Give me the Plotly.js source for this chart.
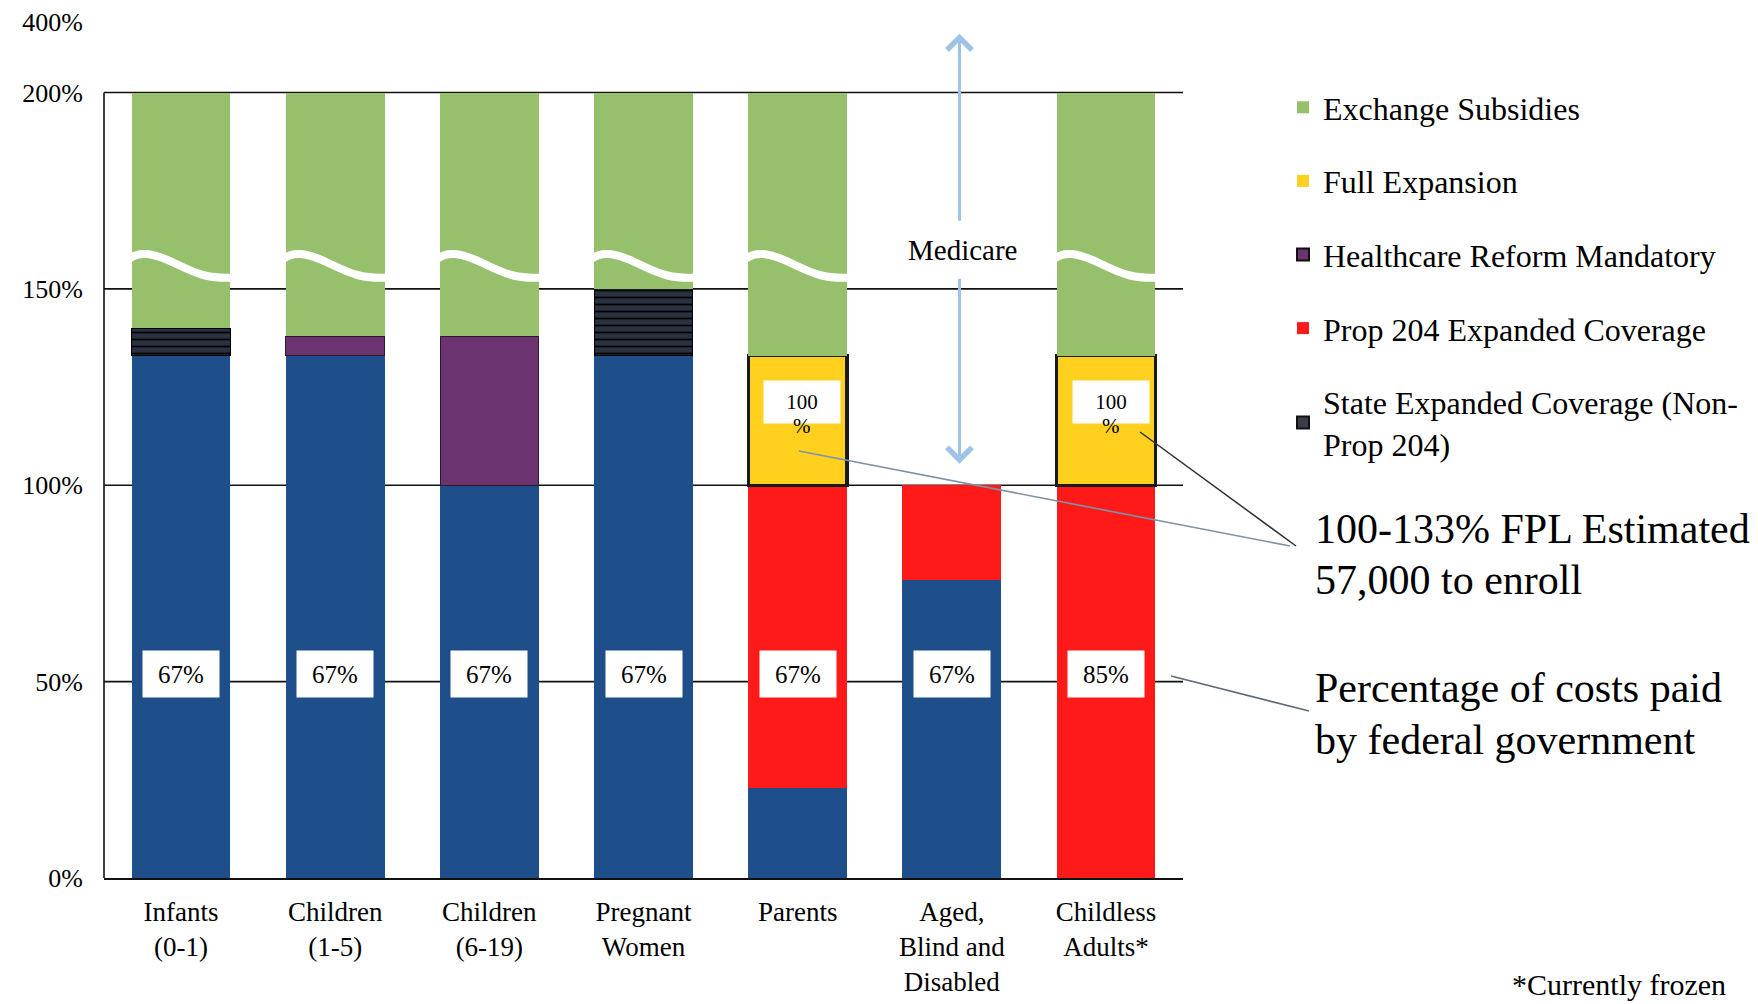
<!DOCTYPE html>
<html>
<head>
<meta charset="utf-8">
<script src="https://cdn.plot.ly/plotly-3.0.1.min.js"></script>
<style>html,body{margin:0;padding:0;background:#fff;}#chart{width:1758px;height:1004px;}</style>
</head>
<body>
<div id="chart"></div>
<script>
// ---- data ----
var categories = ['Infants<br>(0-1)', 'Children<br>(1-5)', 'Children<br>(6-19)', 'Pregnant<br>Women', 'Parents', 'Aged,<br>Blind and<br>Disabled', 'Childless<br>Adults*'];
var baseCoverage   = [133, 133, 100, 133, 23, 76, null];   // blue (no legend)
var prop204        = [null, null, null, null, 77, 24, 100];
var stateExpanded  = [7, null, null, 17, null, null, null];
var hcrMandatory   = [null, 5, 38, null, null, null, null];
var fullExpansion  = [null, null, null, null, 33, null, 33];
var exchange       = [60, 62, 62, 50, 67, null, 67];
var fedShare       = ['67%', '67%', '67%', '67%', '67%', '67%', '85%'];
var fullShare      = [null, null, null, null, '100', null, '100'];
var yTickVals      = [0, 50, 100, 150, 200];
var yTickText      = ['0%', '50%', '100%', '150%', '200%'];
var topTickText    = '400%';
var fplText        = ['100-133% FPL Estimated', '57,000 to enroll'];
var shareText      = ['Percentage of costs paid', 'by federal government'];
var footnote       = '*Currently frozen';

// ---- layout constants ----
var FONT = 'Liberation Serif, Times New Roman, serif';
var L = 104, R = 1183, T = 14, B = 878, W = 1758, H = 1004;
var YMAX = 220, TOPTICK = 218;
var BARW = 0.64;
function px(xp) { return (xp - L) / (R - L); }
function py(yp) { return (B - yp) / (B - T); }

var xs = categories.map(function (_, i) { return i; });
var none = categories.map(function () { return null; });

function barTrace(name, vals, marker, extra) {
  var t = {
    type: 'bar', name: name, x: xs, y: vals, width: BARW,
    marker: marker, hoverinfo: 'skip'
  };
  for (var k in extra) t[k] = extra[k];
  return t;
}

var C_BLUE = '#1E4F8A', C_RED = '#FF1A1A', C_DARK = '#232936', C_PURPLE = '#6B3470',
    C_YELLOW = '#FFD11E', C_GREEN = '#96C06C';

var traces = [
  barTrace('Medicaid', baseCoverage, { color: C_BLUE, line: { width: 0 } }, { showlegend: false }),
  barTrace('Prop 204 Expanded Coverage', prop204, { color: C_RED, line: { width: 0 } },
    { legendgroup: 'g4', legendrank: 4 }),
  barTrace('State Expanded Coverage (Non-Prop 204)', stateExpanded,
    { color: C_DARK, line: { width: 1, color: '#000' },
      pattern: { shape: '-', fgcolor: '#000000', bgcolor: '#2a3140', size: 7, solidity: 0.25 } },
    { showlegend: false }),
  barTrace('Healthcare Reform Mandatory', hcrMandatory, { color: C_PURPLE, line: { width: 1, color: '#2a1a2e' } },
    { showlegend: false }),
  barTrace('Full Expansion', fullExpansion, { color: C_YELLOW, line: { width: 3.5, color: '#1a1a1a' } },
    { showlegend: false }),
  barTrace('Exchange Subsidies', exchange, { color: C_GREEN, line: { width: 0 } },
    { legendgroup: 'g1', legendrank: 1 }),
  // legend-only swatches (no bars drawn)
  barTrace('Full Expansion', none, { color: C_YELLOW, line: { width: 0 } }, { legendgroup: 'g2', legendrank: 2 }),
  barTrace('Healthcare Reform Mandatory', none, { color: C_PURPLE, line: { width: 2, color: '#111' } },
    { legendgroup: 'g3', legendrank: 3 }),
  barTrace('State Expanded Coverage (Non-<br>Prop 204)', none, { color: '#3a3d44', line: { width: 2, color: '#111' } },
    { legendgroup: 'g5', legendrank: 5 })
];

var shapes = [];
// gridlines (full width) below bars
yTickVals.forEach(function (v) {
  if (v === 0) return;
  shapes.push({ type: 'line', xref: 'paper', yref: 'y', x0: 0, x1: 1, y0: v, y1: v,
    line: { color: '#111', width: 1.6 }, layer: 'below' });
});
// left axis line from 0 to 200
shapes.push({ type: 'line', xref: 'paper', yref: 'y', x0: 0, x1: 0, y0: 0, y1: yTickVals[yTickVals.length - 1],
  line: { color: '#111', width: 1.6 }, layer: 'below' });

// axis-break waves on the exchange bars
exchange.forEach(function (v, i) {
  if (v === null) return;
  var x0 = i - BARW / 2 - 0.02, x1 = i + BARW / 2 + 0.02, w = x1 - x0;
  var p = 'M ' + x0 + ',157.6 C ' + (x0 + 0.1 * w) + ',159.6 ' + (x0 + 0.22 * w) + ',159.4 ' +
          (x0 + 0.45 * w) + ',156.4 S ' + (x0 + 0.78 * w) + ',152.6 ' + x1 + ',152.9';
  shapes.push({ type: 'path', xref: 'x', yref: 'y', path: p, line: { color: '#ffffff', width: 8 }, layer: 'above' });
});

// pointer lines to callouts
shapes.push({ type: 'line', xref: 'paper', yref: 'paper', x0: px(1140), y0: py(432), x1: px(1296), y1: py(546),
  line: { color: '#2b2f36', width: 1.5 } });
shapes.push({ type: 'line', xref: 'paper', yref: 'paper', x0: px(799), y0: py(451), x1: px(1290), y1: py(546),
  line: { color: '#7d93aa', width: 1.6 } });
shapes.push({ type: 'line', xref: 'paper', yref: 'paper', x0: px(1171), y0: py(676), x1: px(1309), y1: py(711),
  line: { color: '#5d6a7a', width: 1.6 } });

var annotations = [];
// federal share boxes
fedShare.forEach(function (t, i) {
  annotations.push({ x: i, y: 52, xref: 'x', yref: 'y', text: t, showarrow: false,
    bgcolor: '#ffffff', width: 74, height: 44, borderpad: 1,
    font: { family: FONT, size: 25, color: '#000' } });
});
// full expansion 100% boxes
fullShare.forEach(function (t, i) {
  if (t === null) return;
  annotations.push({ x: i + 0.03, y: 121.3, xref: 'x', yref: 'y', text: t, showarrow: false,
    bgcolor: '#ffffff', width: 74, height: 40, borderpad: 1,
    font: { family: FONT, size: 21, color: '#000' } });
  annotations.push({ x: i + 0.03, y: 115.0, xref: 'x', yref: 'y', text: '%', showarrow: false,
    font: { family: FONT, size: 21, color: '#000' } });
});
// Medicare double arrow
annotations.push({ x: 5.05, y: 215, xref: 'x', yref: 'y', ax: 5.05, ay: 167, axref: 'x', ayref: 'y',
  text: '', showarrow: true, arrowhead: 4, arrowsize: 1.6, arrowwidth: 3, arrowcolor: '#9DC3E6' });
annotations.push({ x: 5.05, y: 105.5, xref: 'x', yref: 'y', ax: 5.05, ay: 153, axref: 'x', ayref: 'y',
  text: '', showarrow: true, arrowhead: 4, arrowsize: 1.6, arrowwidth: 3, arrowcolor: '#9DC3E6' });
annotations.push({ x: 5.07, y: 160, xref: 'x', yref: 'y', text: 'Medicare', showarrow: false,
  font: { family: FONT, size: 29, color: '#000' } });
// callout texts (one annotation per line)
[[fplText, [529, 580]], [shareText, [688, 740]]].forEach(function (c) {
  c[0].forEach(function (line, k) {
    annotations.push({ x: px(1313), y: py(c[1][k]), xref: 'paper', yref: 'paper', xanchor: 'left', yanchor: 'middle',
      text: line, showarrow: false, font: { family: FONT, size: 42, color: '#000' } });
  });
});
annotations.push({ x: px(1727), y: py(1002), xref: 'paper', yref: 'paper', xanchor: 'right', yanchor: 'bottom',
  text: footnote, showarrow: false, borderpad: 0, font: { family: FONT, size: 30, color: '#000' } });

var layout = {
  width: W, height: H,
  margin: { l: L, r: W - R, t: T, b: H - B, pad: 0 },
  paper_bgcolor: '#ffffff', plot_bgcolor: '#ffffff',
  barmode: 'stack',
  font: { family: FONT, color: '#000' },
  xaxis: {
    range: [-0.5, categories.length - 0.5], tickvals: xs, ticktext: categories,
    showgrid: false, zeroline: false, showline: true, linecolor: '#111', linewidth: 1.6,
    ticks: '', ticklabelstandoff: 9, tickfont: { family: FONT, size: 27, color: '#000' }, fixedrange: true
  },
  yaxis: {
    range: [0, YMAX], tickvals: yTickVals.concat([TOPTICK]), ticktext: yTickText.concat([topTickText]),
    showgrid: false, zeroline: false, showline: false, ticks: '', ticklabelstandoff: 20,
    tickfont: { family: FONT, size: 26, color: '#000' }, fixedrange: true
  },
  legend: {
    x: px(1283), y: py(80), xanchor: 'left', yanchor: 'top',
    traceorder: 'grouped', tracegroupgap: 29,
    font: { family: FONT, size: 32, color: '#000' }, bgcolor: 'rgba(0,0,0,0)'
  },
  shapes: shapes,
  annotations: annotations,
  showlegend: true
};

Plotly.newPlot('chart', traces, layout, { displayModeBar: false, staticPlot: true });
</script>
</body>
</html>
